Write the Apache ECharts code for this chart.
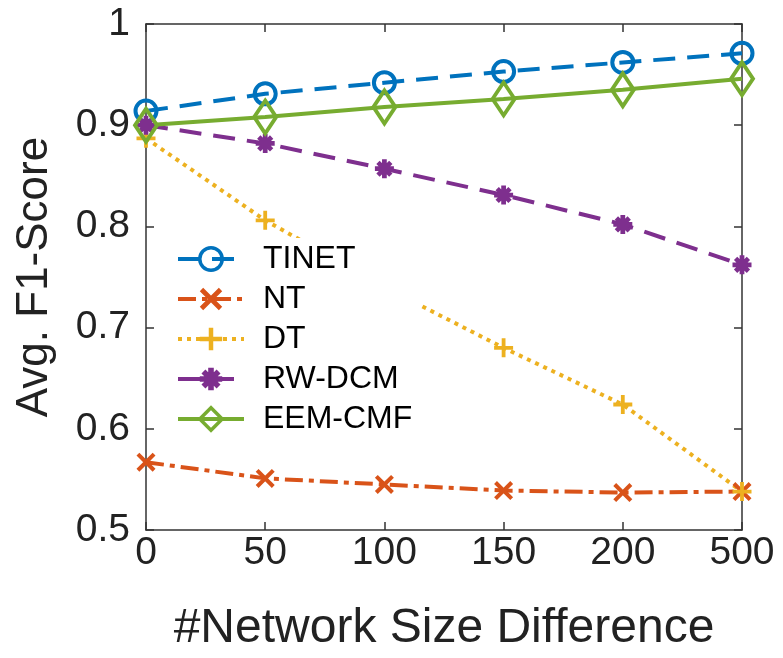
<!DOCTYPE html>
<html><head><meta charset="utf-8">
<script src="https://cdn.jsdelivr.net/npm/echarts@6/dist/echarts.min.js"></script>
<style>html,body{margin:0;padding:0;background:#fff}#c{width:783px;height:658px}</style>
</head><body><div id="c"></div>
<script>
const categories = ['0','50','100','150','200','500'];
const TINET   = [0.914, 0.931, 0.942, 0.953, 0.962, 0.971];
const NT      = [0.567, 0.551, 0.545, 0.539, 0.537, 0.538];
const DT      = [0.887, 0.806, 0.740, 0.680, 0.624, 0.538];
const RWDCM   = [0.900, 0.882, 0.857, 0.831, 0.802, 0.762];
const EEMCMF  = [0.900, 0.908, 0.918, 0.926, 0.935, 0.946];
const yTicks = [0.5, 0.6, 0.7, 0.8, 0.9, 1];
const legendNames = ['TINET','NT','DT','RW-DCM','EEM-CMF'];

const FONT = 'Liberation Sans, Arial, sans-serif';
const SYM = {
  x: 'path://M0,3 L3,0 L20,17 L17,20 Z M3,20 L0,17 L17,0 L20,3 Z',
  plus: 'path://M8,0 L12,0 L12,8 L20,8 L20,12 L12,12 L12,20 L8,20 L8,12 L0,12 L0,8 L8,8 Z',
  star: 'path://M7.5,0 L12.5,0 L12.5,7.5 L20,7.5 L20,12.5 L12.5,12.5 L12.5,20 L7.5,20 L7.5,12.5 L0,12.5 L0,7.5 L7.5,7.5 Z M1.5,5 L5,1.5 L18.5,15 L15,18.5 Z M5,18.5 L1.5,15 L15,1.5 L18.5,5 Z',
  diamond: 'path://M5,0 L8.5,7 L5,14 L1.5,7 Z',
  circle: 'path://M10,0 A10,10 0 1 1 9.99,0 Z'
};
const HOLLOW = { 'TINET': true, 'EEM-CMF': true };
const CLEAR = 'rgba(255,255,255,0)';
function mk(name, data, color, type, symbol, size) {
  return {
    name, type: 'line', data, symbol, symbolSize: size,
    showAllSymbol: true, z: 3,
    lineStyle: { color, width: 4, type },
    itemStyle: HOLLOW[name]
      ? { color: CLEAR, borderColor: color, borderWidth: 4 }
      : { color, borderColor: color, borderWidth: 0 },
    emphasis: { disabled: true }
  };
}
const chart = echarts.init(document.getElementById('c'));
chart.setOption({
  animation: false,
  backgroundColor: '#fff',
  grid: { left: 146, right: 41, top: 24, bottom: 125 },
  legend: {
    orient: 'vertical', left: 170, top: 238,
    itemWidth: 66, itemHeight: 28, itemGap: 8,
    backgroundColor: '#fff', padding: [5, 8, 5, 6],
    lineStyle: { width: 4 },
    textStyle: { fontFamily: FONT, fontSize: 32, color: '#000', padding: [0, 0, 0, 14] },
    data: legendNames.map(n => ({ name: n, itemStyle: { borderWidth: HOLLOW[n] ? 3.5 : 0 } }))
  },
  xAxis: [{
    type: 'category', data: categories, boundaryGap: false,
    name: '#Network Size Difference', nameLocation: 'middle', nameGap: 75,
    nameTextStyle: { fontFamily: FONT, fontSize: 48, color: '#222' },
    axisLine: { lineStyle: { color: '#333', width: 1.5 } },
    axisTick: { inside: true, length: 8, lineStyle: { color: '#333', width: 1.5 } },
    axisLabel: { fontFamily: FONT, fontSize: 39, color: '#222', margin: 4 },
    splitLine: { show: false }
  }, {
    type: 'category', data: categories, boundaryGap: false, position: 'top',
    axisLine: { lineStyle: { color: '#333', width: 1.5 } },
    axisTick: { inside: true, length: 8, lineStyle: { color: '#333', width: 1.5 } },
    axisLabel: { show: false }, splitLine: { show: false }
  }],
  yAxis: [{
    type: 'value', min: yTicks[0], max: yTicks[yTicks.length-1], interval: 0.1,
    name: 'Avg. F1-Score', nameLocation: 'middle', nameGap: 89,
    nameTextStyle: { fontFamily: FONT, fontSize: 44, color: '#222' },
    axisLine: { show: true, lineStyle: { color: '#333', width: 1.5 } },
    axisTick: { show: true, inside: true, length: 8, lineStyle: { color: '#333', width: 1.5 } },
    axisLabel: { fontFamily: FONT, fontSize: 39, color: '#222', margin: 16,
      formatter: v => String(Math.round(v*10)/10) },
    splitLine: { show: false }
  }, {
    type: 'value', min: yTicks[0], max: yTicks[yTicks.length-1], interval: 0.1, position: 'right',
    axisLine: { show: true, lineStyle: { color: '#333', width: 1.5 } },
    axisTick: { show: true, inside: true, length: 8, lineStyle: { color: '#333', width: 1.5 } },
    axisLabel: { show: false }, splitLine: { show: false }
  }],
  series: [
    mk('TINET', TINET, '#0072BD', [22, 12], SYM.circle, 21),
    mk('NT', NT, '#D95319', [18, 6, 5, 6], SYM.x, 19),
    mk('DT', DT, '#EDB120', [4, 5], SYM.plus, 19),
    mk('RW-DCM', RWDCM, '#7E2F8E', [22, 12], SYM.star, 19),
    mk('EEM-CMF', EEMCMF, '#77AC30', 'solid', SYM.diamond, [22, 33])
  ]
});
</script></body></html>
